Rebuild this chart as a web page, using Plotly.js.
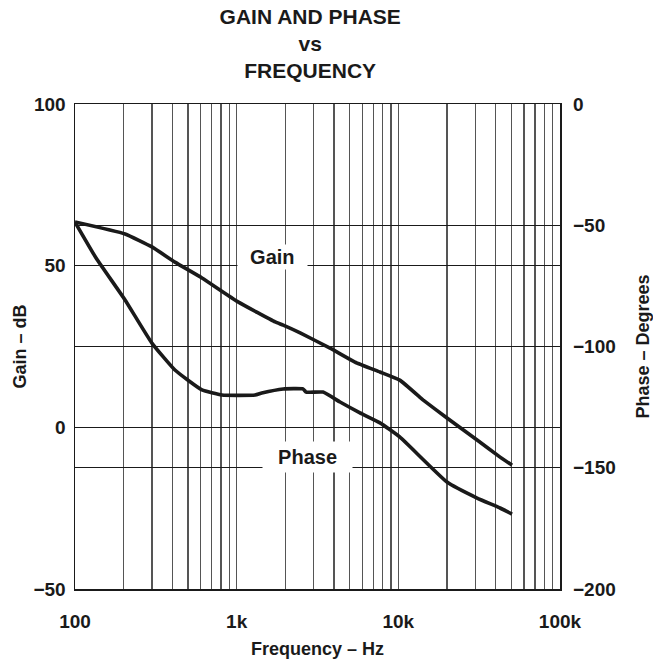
<!DOCTYPE html>
<html>
<head>
<meta charset="utf-8">
<script src="https://cdn.plot.ly/plotly-3.0.1.min.js"></script>
<style>html,body{margin:0;padding:0;background:#fff;}#chart{width:653px;height:663px;}</style>
</head>
<body>
<div id="chart"></div>
<script>
// Frequency (Hz) and values
const gainFreq = [100, 204, 299, 415, 610, 1020, 1730, 1940, 2470, 3780, 5390, 7700, 10200, 13600, 14200, 20000, 30700, 42600, 50500];
const gainDb   = [63.5, 59.8, 55.8, 51.1, 46.2, 38.8, 32.6, 31.6, 29.2, 24.5, 20.2, 17.1, 14.6, 9.3, 8.5, 2.9, -3.9, -9.2, -11.7];

const phaseFreq = [100, 135, 204, 299, 415, 610, 811, 1300, 1430, 1940, 2570, 2690, 3420, 4360, 5790, 7700, 10200, 20000, 30700, 42600, 50500];
const phaseDeg  = [-48.7, -63.5, -80.8, -98.6, -109.7, -117.9, -120.0, -120.0, -119.2, -117.5, -117.5, -118.8, -118.8, -122.9, -127.4, -131.5, -137.3, -155.9, -162.5, -166.6, -169.1];

const decadeTicks = [100, 1000, 10000, 100000];
const decadeLabels = ['100', '1k', '10k', '100k'];
const gainTicks = [-50, 0, 50, 100];
const phaseTicks = [-200, -150, -100, -50, 0];

// all log grid positions (2..9 per decade)
const gridVals = [];
const gridText = [];
for (let d = 100; d <= 100000; d *= 10) {
  for (let m = 1; m <= 9; m++) {
    const v = d * m;
    if (v > 100000) break;
    gridVals.push(v);
    const idx = decadeTicks.indexOf(v);
    gridText.push(idx >= 0 ? decadeLabels[idx] : '');
  }
}

const FONT = 'Liberation Sans, Arial, Helvetica, sans-serif';
const INK = '#1a1a1a';
const traces = [
  {x: gainFreq, y: gainDb, type: 'scatter', mode: 'lines', yaxis: 'y',
   line: {color: INK, width: 3.6, shape: 'spline', smoothing: 0.4}, hoverinfo: 'skip'},
  {x: phaseFreq, y: phaseDeg, type: 'scatter', mode: 'lines', yaxis: 'y2',
   line: {color: INK, width: 3.6, shape: 'spline', smoothing: 0.4}, hoverinfo: 'skip'}
];

const layout = {
  width: 653, height: 663,
  margin: {l: 75, r: 93, t: 104, b: 74},
  paper_bgcolor: '#fff', plot_bgcolor: '#fff',
  showlegend: false,
  font: {family: FONT, color: INK},
  title: {
    text: '<b>GAIN AND PHASE<br>vs<br>FREQUENCY</b>',
    font: {size: 21, family: FONT, color: INK},
    x: 0.485, xref: 'paper', y: 0.964, yref: 'container', yanchor: 'top'
  },
  xaxis: {
    type: 'log', range: [2, 5],
    tickvals: gridVals, ticktext: gridText,
    ticks: '', ticklabelstandoff: 15,
    tickfont: {size: 19, family: FONT, weight: 'bold', color: INK},
    showgrid: true, gridcolor: '#555', gridwidth: 1.3,
    showline: true, linecolor: INK, linewidth: 1.5, mirror: true,
    zeroline: false,
    title: {text: '<b>Frequency – Hz</b>', font: {size: 18, family: FONT, color: INK}, standoff: 11}
  },
  yaxis: {
    range: [-50, 100], tickvals: gainTicks,
    ticks: '', ticklabelstandoff: 4,
    tickfont: {size: 19, family: FONT, weight: 'bold', color: INK},
    showgrid: true, gridcolor: INK, gridwidth: 1.2,
    showline: true, linecolor: INK, linewidth: 1.5, mirror: true,
    zeroline: false,
    title: {text: '<b>Gain – dB</b>', font: {size: 18, family: FONT, color: INK}, standoff: 2}
  },
  yaxis2: {
    range: [-200, 0], tickvals: phaseTicks,
    overlaying: 'y', side: 'right',
    ticks: '', ticklabelstandoff: 12,
    tickfont: {size: 19, family: FONT, weight: 'bold', color: INK},
    showgrid: true, gridcolor: INK, gridwidth: 1.2,
    showline: false, zeroline: false,
    title: {text: '<b>Phase – Degrees</b>', font: {size: 18, family: FONT, color: INK}, standoff: 23}
  },
  annotations: [
    {x: Math.log10(1656), y: 52.7, xref: 'x', yref: 'y', text: '<b>\u00a0\u00a0Gain\u00a0\u00a0</b>',
     showarrow: false, bgcolor: '#fff', borderpad: 1,
     font: {size: 20, family: FONT, color: INK}},
    {x: Math.log10(2760), y: -9.2, xref: 'x', yref: 'y', text: '<b>\u00a0\u00a0Phase\u00a0\u00a0</b>',
     showarrow: false, bgcolor: '#fff', borderpad: 4,
     font: {size: 20, family: FONT, color: INK}}
  ]
};

Plotly.newPlot('chart', traces, layout, {staticPlot: true, displayModeBar: false});
</script>
</body>
</html>
